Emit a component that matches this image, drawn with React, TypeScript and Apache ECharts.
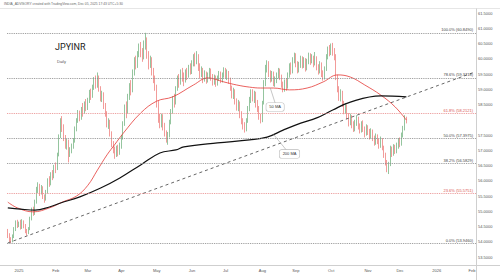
import React, { useEffect, useRef } from "react";
import * as echarts from "echarts";

// ---- categories: every weekday session from 2024-12-23 to 2026-02-04 ----
const FIRST_SESSION = "2024-12-23";
const SESSION_COUNT = 293;
const MONTH_NAMES = ["Jan", "Feb", "Mar", "Apr", "May", "Jun", "Jul", "Aug", "Sep", "Oct", "Nov", "Dec"];

// ---- OHLC data, each row [open, close, low, high] ----
const dec2024 = [
  [54.35, 54.22, 54.12, 54.42], [54.22, 54.10, 53.99, 54.28], [54.10, 54.02, 53.95, 54.15],
  [54.02, 54.18, 53.98, 54.24], [54.18, 54.40, 54.12, 54.48], [54.40, 54.62, 54.35, 54.70],
  [54.62, 54.55, 54.45, 54.72],
];
const jan2025 = [
  [54.55, 54.60, 54.48, 54.66], [54.60, 54.48, 54.40, 54.72], [54.48, 54.66, 54.42, 54.74],
  [54.66, 54.52, 54.44, 54.70], [54.52, 54.35, 54.28, 54.58], [54.35, 54.30, 54.20, 54.42],
  [54.30, 54.42, 54.25, 54.48], [54.42, 54.75, 54.38, 54.82], [54.75, 55.05, 54.70, 55.12],
  [55.05, 54.92, 54.85, 55.15], [54.92, 55.30, 54.88, 55.38], [55.30, 55.72, 55.25, 55.80],
  [55.72, 55.85, 55.60, 55.95], [55.85, 55.62, 55.50, 55.90], [55.62, 55.78, 55.55, 55.86],
  [55.78, 55.48, 55.40, 55.82], [55.48, 55.40, 55.28, 55.55], [55.40, 55.62, 55.35, 55.70],
  [55.62, 56.00, 55.58, 56.08], [56.00, 55.90, 55.80, 56.15], [55.90, 56.20, 55.85, 56.28],
  [56.20, 56.12, 56.02, 56.35], [56.12, 56.45, 56.08, 56.52],
];
const feb2025 = [
  [56.45, 56.40, 56.25, 56.60], [56.40, 56.85, 56.35, 56.92], [56.85, 57.45, 56.80, 57.52],
  [57.45, 57.95, 57.40, 58.05], [57.95, 57.78, 57.60, 58.12], [57.78, 57.40, 57.30, 57.85],
  [57.40, 57.15, 57.05, 57.50], [57.15, 57.30, 57.02, 57.38], [57.30, 56.85, 56.60, 57.35],
  [56.85, 57.00, 56.78, 57.10], [57.00, 57.12, 56.90, 57.22], [57.12, 57.30, 57.05, 57.40],
  [57.30, 57.70, 57.25, 57.78], [57.70, 57.95, 57.62, 58.05], [57.95, 58.20, 57.90, 58.32],
  [58.20, 58.05, 57.95, 58.30], [58.05, 58.35, 58.00, 58.42], [58.35, 58.25, 58.10, 58.55],
  [58.25, 58.50, 58.20, 58.60], [58.50, 58.40, 58.28, 58.68],
];
const mar2025 = [
  [58.40, 58.62, 58.32, 58.72], [58.62, 58.90, 58.55, 58.98], [58.90, 58.78, 58.65, 59.02],
  [58.78, 59.05, 58.72, 59.15], [59.05, 59.30, 58.98, 59.40], [59.30, 59.15, 59.02, 59.45],
  [59.15, 59.38, 59.05, 59.55], [59.38, 59.02, 58.92, 59.45], [59.02, 58.70, 58.60, 59.10],
  [58.70, 58.85, 58.58, 58.95], [58.85, 58.45, 58.35, 58.90], [58.45, 58.20, 58.10, 58.55],
  [58.20, 57.85, 57.75, 58.28], [57.85, 57.95, 57.70, 58.05], [57.95, 57.55, 57.45, 58.00],
  [57.55, 57.20, 57.10, 57.62], [57.20, 57.05, 56.90, 57.30], [57.05, 56.85, 56.72, 57.12],
  [56.85, 57.05, 56.78, 57.15], [57.05, 56.92, 56.80, 57.18], [56.92, 57.15, 56.85, 57.25],
];
const apr2025 = [
  [57.15, 57.40, 57.05, 57.50], [57.40, 57.85, 57.35, 57.95], [57.85, 58.40, 57.80, 58.50],
  [58.40, 58.25, 58.05, 58.60], [58.25, 58.75, 58.20, 58.85], [58.75, 59.10, 58.65, 59.20],
  [59.10, 58.95, 58.80, 59.30], [58.95, 59.55, 58.90, 59.65], [59.55, 59.95, 59.45, 60.05],
  [59.95, 59.80, 59.65, 60.10], [59.80, 60.15, 59.70, 60.25], [60.15, 60.40, 60.05, 60.50],
  [60.40, 60.20, 60.05, 60.55], [60.20, 60.05, 59.90, 60.35], [60.05, 60.45, 59.98, 60.60],
  [60.45, 60.60, 60.30, 60.85], [60.60, 60.15, 60.00, 60.70], [60.15, 59.80, 59.65, 60.25],
  [59.80, 59.95, 59.70, 60.10], [59.95, 59.60, 59.45, 60.05], [59.60, 59.35, 59.20, 59.70],
  [59.35, 59.10, 58.95, 59.45],
];
const may2025 = [
  [59.10, 58.55, 58.40, 59.15], [58.55, 58.05, 57.90, 58.62], [58.05, 57.85, 57.72, 58.20],
  [57.85, 58.10, 57.75, 58.20], [58.10, 57.80, 57.65, 58.18], [57.80, 57.55, 57.45, 57.90],
  [57.55, 57.35, 57.25, 57.65], [57.35, 57.50, 57.18, 57.60], [57.50, 57.90, 57.42, 58.00],
  [57.90, 58.25, 57.85, 58.35], [58.25, 58.70, 58.20, 58.78], [58.70, 58.55, 58.40, 58.85],
  [58.55, 59.00, 58.50, 59.10], [59.00, 59.35, 58.95, 59.45], [59.35, 59.20, 59.05, 59.50],
  [59.20, 59.55, 59.15, 59.65], [59.55, 59.40, 59.25, 59.70], [59.40, 59.30, 59.10, 59.55],
  [59.30, 59.55, 59.22, 59.65], [59.55, 59.45, 59.30, 59.70], [59.45, 59.70, 59.38, 59.80],
  [59.70, 59.60, 59.48, 59.85],
];
const jun2025 = [
  [59.60, 59.85, 59.50, 59.95], [59.85, 60.05, 59.75, 60.15], [60.05, 59.90, 59.75, 60.20],
  [59.90, 60.10, 59.82, 60.25], [60.10, 59.75, 59.60, 60.15], [59.75, 59.50, 59.35, 59.85],
  [59.50, 59.65, 59.40, 59.75], [59.65, 59.35, 59.20, 59.70], [59.35, 59.50, 59.25, 59.62],
  [59.50, 59.30, 59.18, 59.58], [59.30, 59.45, 59.22, 59.55], [59.45, 59.60, 59.35, 59.70],
  [59.60, 59.40, 59.28, 59.68], [59.40, 59.25, 59.12, 59.50], [59.25, 59.38, 59.15, 59.48],
  [59.38, 59.20, 59.08, 59.45], [59.20, 59.35, 59.12, 59.45], [59.35, 59.50, 59.28, 59.60],
  [59.50, 59.30, 59.20, 59.58], [59.30, 59.45, 59.22, 59.55], [59.45, 59.62, 59.38, 59.72],
];
const jul2025 = [
  [59.62, 59.45, 59.35, 59.70], [59.45, 59.55, 59.30, 59.65], [59.55, 59.30, 59.18, 59.60],
  [59.30, 59.05, 58.95, 59.38], [59.05, 58.80, 58.70, 59.12], [58.80, 58.95, 58.68, 59.05],
  [58.95, 58.60, 58.50, 59.00], [58.60, 58.40, 58.30, 58.70], [58.40, 58.55, 58.28, 58.65],
  [58.55, 58.20, 58.05, 58.60], [58.20, 57.95, 57.85, 58.28], [57.95, 57.80, 57.68, 58.05],
  [57.80, 57.70, 57.58, 57.92], [57.70, 57.95, 57.62, 58.05], [57.95, 58.35, 57.90, 58.45],
  [58.35, 58.65, 58.28, 58.75], [58.65, 58.90, 58.55, 59.00], [58.90, 58.70, 58.60, 59.00],
  [58.70, 58.85, 58.55, 58.95], [58.85, 58.55, 58.40, 58.92], [58.55, 58.35, 58.25, 58.65],
  [58.35, 58.10, 58.00, 58.45], [58.10, 57.98, 57.88, 58.20],
];
const aug2025 = [
  [57.98, 58.55, 57.92, 58.62], [58.55, 59.20, 58.50, 59.30], [59.20, 59.70, 59.10, 59.80],
  [59.70, 59.85, 59.55, 59.95], [59.85, 59.55, 59.40, 59.92], [59.55, 59.35, 59.22, 59.62],
  [59.35, 59.50, 59.25, 59.60], [59.50, 59.20, 59.10, 59.58], [59.20, 59.30, 59.08, 59.42],
  [59.30, 59.45, 59.20, 59.55], [59.45, 59.60, 59.35, 59.70], [59.60, 59.40, 59.30, 59.68],
  [59.40, 59.15, 59.05, 59.48], [59.15, 59.00, 58.90, 59.25], [59.00, 59.25, 58.92, 59.32],
  [59.25, 59.10, 58.95, 59.35], [59.10, 59.45, 59.02, 59.55], [59.45, 59.75, 59.38, 59.85],
  [59.75, 59.60, 59.48, 59.88], [59.60, 59.95, 59.52, 60.05], [59.95, 60.10, 59.85, 60.20],
];
const sep2025 = [
  [60.10, 59.85, 59.72, 60.18], [59.85, 59.65, 59.52, 59.92], [59.65, 59.80, 59.55, 59.90],
  [59.80, 60.00, 59.70, 60.10], [60.00, 59.80, 59.68, 60.08], [59.80, 59.95, 59.70, 60.05],
  [59.95, 59.70, 59.58, 60.02], [59.70, 59.90, 59.62, 60.00], [59.90, 60.10, 59.82, 60.20],
  [60.10, 59.92, 59.80, 60.18], [59.92, 60.05, 59.85, 60.15], [60.05, 59.85, 59.72, 60.10],
  [59.85, 60.00, 59.78, 60.22], [60.00, 59.75, 59.62, 60.08], [59.75, 59.60, 59.48, 59.82],
  [59.60, 59.82, 59.52, 59.92], [59.82, 59.55, 59.40, 59.88], [59.55, 59.40, 59.28, 59.62],
  [59.40, 59.65, 59.32, 59.75], [59.65, 60.05, 59.60, 60.15], [60.05, 60.30, 59.98, 60.40],
  [60.30, 60.20, 60.08, 60.45],
];
const oct2025 = [
  [60.20, 60.38, 60.12, 60.50], [60.38, 60.25, 60.10, 60.52], [60.25, 60.10, 59.95, 60.35],
  [60.10, 59.40, 59.30, 60.15], [59.40, 59.00, 58.90, 59.48], [59.00, 58.75, 58.62, 59.10],
  [58.75, 58.90, 58.60, 59.00], [58.90, 58.55, 58.42, 58.95], [58.55, 58.30, 58.18, 58.62],
  [58.30, 58.45, 58.20, 58.55], [58.45, 58.15, 58.02, 58.50], [58.15, 57.90, 57.78, 58.22],
  [57.90, 58.10, 57.82, 58.20], [58.10, 57.85, 57.72, 58.15], [57.85, 57.70, 57.60, 57.95],
  [57.70, 57.90, 57.62, 58.00], [57.90, 58.05, 57.80, 58.15], [58.05, 57.80, 57.68, 58.10],
  [57.80, 57.65, 57.55, 57.88], [57.65, 57.85, 57.58, 57.95], [57.85, 57.70, 57.60, 57.98],
  [57.70, 57.55, 57.42, 57.78], [57.55, 57.75, 57.48, 57.85],
];
const nov2025 = [
  [57.75, 57.60, 57.50, 57.82], [57.60, 57.45, 57.35, 57.70], [57.45, 57.62, 57.38, 57.72],
  [57.62, 57.40, 57.30, 57.68], [57.40, 57.25, 57.15, 57.48], [57.25, 57.45, 57.18, 57.55],
  [57.45, 57.30, 57.20, 57.52], [57.30, 57.15, 57.05, 57.38], [57.15, 57.35, 57.08, 57.45],
  [57.35, 57.10, 57.00, 57.40], [57.10, 56.85, 56.75, 57.15], [56.85, 56.60, 56.50, 56.92],
  [56.60, 56.40, 56.28, 56.68], [56.40, 56.55, 56.22, 56.62], [56.55, 57.05, 56.48, 57.15],
  [57.05, 56.90, 56.78, 57.12], [56.90, 57.10, 56.82, 57.20], [57.10, 56.98, 56.88, 57.18],
  [56.98, 57.15, 56.90, 57.25], [57.15, 57.30, 57.05, 57.40],
];
const dec2025 = [
  [57.30, 57.20, 57.10, 57.42], [57.20, 57.50, 57.15, 57.58], [57.50, 57.70, 57.42, 57.80],
  [57.70, 58.02, 57.65, 58.15], [58.02, 57.96, 57.88, 58.10],
];

// ---- moving averages: [session index, value] ----
const ma50 = [
  [0, 55.30], [6, 55.11], [16, 54.98], [26, 55.11], [34, 55.30], [43, 55.50], [50, 55.85],
  [56, 56.35], [62, 56.85], [67, 57.20], [72, 57.55], [83, 58.22], [93, 58.61], [103, 58.75],
  [116, 59.14], [125, 59.37], [135, 59.24], [143, 59.14], [151, 59.07], [158, 59.04],
  [166, 59.04], [176, 58.98], [187, 59.04], [197, 59.24], [206, 59.47], [214, 59.40],
  [223, 59.14], [233, 58.81], [242, 58.42], [249, 57.99],
];
const ma200 = [
  [0, 55.11], [8, 55.07], [17, 55.04], [26, 55.14], [33, 55.27], [45, 55.47], [58, 55.76],
  [70, 56.09], [83, 56.52], [95, 56.91], [105, 57.01], [110, 57.11], [131, 57.24],
  [151, 57.34], [162, 57.43], [172, 57.66], [183, 57.89], [193, 58.06], [203, 58.32],
  [214, 58.58], [233, 58.78], [249, 58.75],
];
// dashed trendline from the December 2024 low
const trendLine = [[0, 53.96], [292, 59.57]];

// ---- Fibonacci retracement ----
const fibLow = 53.946;
const fibHigh = 60.849;
const fibRatios = [0, 0.236, 0.382, 0.5, 0.618, 0.786, 1];
const fibRedRatios = [0.236, 0.618];

// ---- last values shown on the price scale ----
const lastPrice = 57.9603;
const lastMa200 = 58.7466;

// ---- callouts: [from index, from value, to index, to value] ----
const ma50Callout = [164, 59.04, 167, 58.55];
const ma200Callout = [166, 57.52, 176, 56.88];

const TITLE = "JPYINR";
const SUBTITLE = "Daily";
const CREDIT = "INDIA_ADVISORY created with TradingView.com, Dec 05, 2025 17:43 UTC+5:30";

const UP = "#2b8a3e";
const DOWN = "#e53935";
const FONT = "Liberation Sans";

function buildSessions(): string[] {
  const out: string[] = [];
  const d = new Date(FIRST_SESSION + "T00:00:00Z");
  while (out.length < SESSION_COUNT) {
    const wd = d.getUTCDay();
    if (wd !== 0 && wd !== 6) out.push(d.toISOString().slice(0, 10));
    d.setUTCDate(d.getUTCDate() + 1);
  }
  return out;
}

export default function App() {
  const ref = useRef<HTMLDivElement>(null);
  useEffect(() => {
    const sessions = buildSessions();
    const monthStart = new Set<number>();
    sessions.forEach((s, i) => {
      if (i > 0 && s.slice(5, 7) !== sessions[i - 1].slice(5, 7)) monthStart.add(i);
    });
    const candles = [
      ...dec2024, ...jan2025, ...feb2025, ...mar2025, ...apr2025, ...may2025, ...jun2025,
      ...jul2025, ...aug2025, ...sep2025, ...oct2025, ...nov2025, ...dec2025,
    ];
    const fibData = fibRatios.map((r) => {
      const v = fibLow + (fibHigh - fibLow) * r;
      const red = fibRedRatios.includes(r);
      return {
        yAxis: v,
        lineStyle: { color: red ? "#e88a8a" : "#8a8a8a", type: "dotted", width: 0.9 },
        label: {
          formatter: `${(r * 100).toFixed(1)}% (${v.toFixed(4)})`,
          color: red ? "#d9534f" : "#444",
        },
      };
    });

    const calloutLabel = (text: string) => ({
      show: true,
      position: "end",
      distance: 0,
      formatter: text,
      fontSize: 4,
      fontFamily: FONT,
      color: "#333",
      backgroundColor: "#fff",
      borderColor: "#bdbdbd",
      borderWidth: 0.6,
      borderRadius: 2,
      padding: [2, 3, 2, 3],
    });

    const chart = echarts.init(ref.current!, null, { renderer: "svg" });
    chart.setOption({
      animation: false,
      backgroundColor: "#ffffff",
      grid: { left: 7, right: 24, top: 13, bottom: 23 },
      xAxis: {
        type: "category",
        data: sessions,
        boundaryGap: true,
        offset: 8,
        axisLine: { show: false },
        axisTick: { show: false },
        splitLine: { show: false },
        axisLabel: {
          interval: (i: number) => monthStart.has(i),
          formatter: (v: string) => {
            const m = Number(v.slice(5, 7)) - 1;
            return m === 0 ? v.slice(0, 4) : MONTH_NAMES[m];
          },
          fontSize: 4,
          fontFamily: FONT,
          color: "#555",
          margin: 3,
        },
      },
      yAxis: {
        type: "value",
        position: "right",
        min: 53.5,
        max: 61.5,
        interval: 0.5,
        axisLine: { show: false },
        axisTick: { show: false },
        splitLine: { show: false },
        axisLabel: {
          // the price-scale badges hide the scale labels they cover
          formatter: (v: number) =>
            Math.abs(v - lastPrice) < 0.2 || Math.abs(v - lastMa200) < 0.15 ? "" : v.toFixed(4),
          fontSize: 4,
          fontFamily: FONT,
          color: "#555",
          margin: 2,
        },
      },
      series: [
        {
          name: TITLE,
          type: "candlestick",
          data: candles,
          barWidth: 1.1,
          itemStyle: {
            color: UP,
            color0: DOWN,
            borderColor: UP,
            borderColor0: DOWN,
            borderWidth: 0.5,
          },
          markLine: {
            silent: true,
            symbol: ["none", "none"],
            label: {
              position: "insideEndTop",
              fontSize: 4,
              fontFamily: FONT,
              distance: [3, 1],
            },
            data: [
              ...fibData,
              {
                yAxis: lastPrice,
                lineStyle: { opacity: 0 },
                label: {
                  position: "end",
                  distance: 1,
                  formatter: lastPrice.toFixed(4),
                  color: "#fff",
                  backgroundColor: "#2e7d32",
                  padding: [2, 2, 2, 2],
                  fontSize: 4.5,
                  fontFamily: FONT,
                },
              },
              {
                yAxis: lastMa200,
                lineStyle: { opacity: 0 },
                label: {
                  position: "end",
                  distance: 1,
                  formatter: lastMa200.toFixed(4),
                  color: "#fff",
                  backgroundColor: "#111",
                  padding: [2, 2, 2, 2],
                  fontSize: 4.5,
                  fontFamily: FONT,
                },
              },
            ],
          },
        },
        {
          name: "Trend",
          type: "line",
          data: trendLine,
          showSymbol: false,
          lineStyle: { color: "#555", width: 0.9, type: [3, 3] },
          silent: true,
        },
        {
          name: "50 MA",
          type: "line",
          data: ma50,
          smooth: 0.4,
          showSymbol: false,
          lineStyle: { color: "#e53935", width: 0.8 },
          silent: true,
          markLine: {
            silent: true,
            symbol: ["none", "none"],
            lineStyle: { color: "#a0a0a0", width: 0.6, type: "solid" },
            data: [[
              { coord: [ma50Callout[0], ma50Callout[1]] },
              { coord: [ma50Callout[2], ma50Callout[3]], label: calloutLabel("50 MA") },
            ]],
          },
        },
        {
          name: "200 MA",
          type: "line",
          data: ma200,
          smooth: 0.4,
          showSymbol: false,
          lineStyle: { color: "#111", width: 1.2 },
          silent: true,
          markLine: {
            silent: true,
            symbol: ["none", "none"],
            lineStyle: { color: "#a0a0a0", width: 0.6, type: "solid" },
            data: [[
              { coord: [ma200Callout[0], ma200Callout[1]] },
              { coord: [ma200Callout[2], ma200Callout[3]], label: calloutLabel("200 MA") },
            ]],
          },
        },
      ],
      graphic: [
        { type: "line", shape: { x1: 0, y1: 8.5, x2: 500, y2: 8.5 }, style: { stroke: "#e6e6e6", lineWidth: 1 }, silent: true },
        { type: "line", shape: { x1: 0, y1: 265.5, x2: 500, y2: 265.5 }, style: { stroke: "#cfcfcf", lineWidth: 1 }, silent: true },
        { type: "line", shape: { x1: 476.5, y1: 8.5, x2: 476.5, y2: 280 }, style: { stroke: "#cfcfcf", lineWidth: 1 }, silent: true },
        { type: "text", left: 4, top: 2, style: { text: CREDIT, fontSize: 3.3, fontFamily: FONT, fill: "#666" }, silent: true },
        { type: "text", left: 55, top: 42, style: { text: TITLE, fontSize: 9, fontFamily: "Roboto", fill: "#222" }, silent: true },
        { type: "text", left: 57, top: 59, style: { text: SUBTITLE, fontSize: 4, fontFamily: FONT, fill: "#555" }, silent: true },
      ],
    });
    return () => chart.dispose();
  }, []);
  return <div ref={ref} style={{ position: "fixed", left: 0, top: 0, width: 500, height: 280 }} />;
}
